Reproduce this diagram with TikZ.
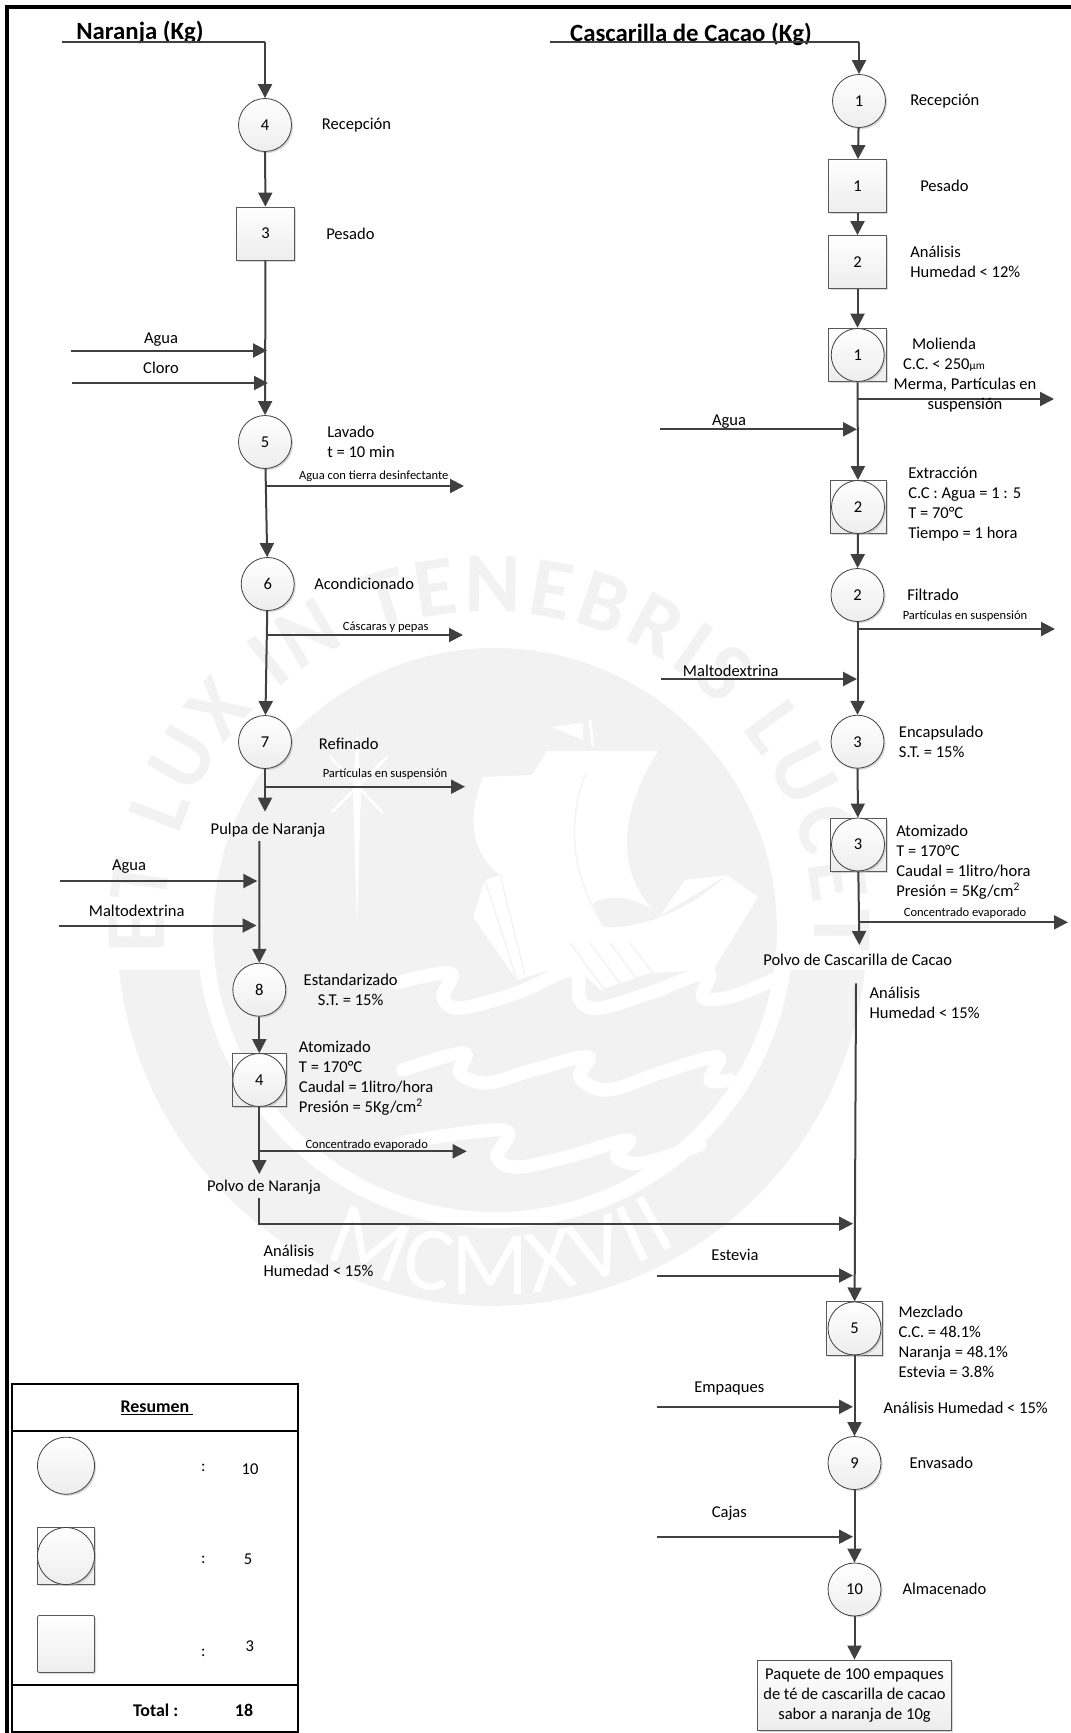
\documentclass[tikz,border=0pt]{standalone}
\usepackage{fontspec}
\setmainfont{Carlito}
\usetikzlibrary{shapes.geometric, arrows.meta, positioning, calc, shadows, decorations.text}
\definecolor{wm_gray}{RGB}{242,242,242}
\definecolor{flow_gray}{RGB}{64,64,64}
\newcommand{\lblfont}{\fontsize{12.4}{15}\selectfont}
\newcommand{\tinyfont}{\fontsize{9.4}{10}\selectfont}
\newcommand{\wmfont}{\fontsize{64}{64}\selectfont\bfseries\color{wm_gray}}
\newcommand{\wmwhite}{\fontsize{68}{68}\selectfont\color{white}}
\tikzset{
    op_circle/.style={ellipse, draw=black!75, line width=0.6pt, inner sep=0pt, top color=white, bottom color=black!7, minimum width=39.75pt, minimum height=39.75pt, font=\lblfont, drop shadow={shadow xshift=1.2pt, shadow yshift=-1.2pt, fill=black!30}},
    ins_box/.style={rectangle, draw=black!65, line width=0.6pt, inner sep=0pt, top color=white, bottom color=black!7, minimum width=44pt, minimum height=39.75pt, font=\lblfont, drop shadow={shadow xshift=1.2pt, shadow yshift=-1.2pt, fill=black!30}},
    lbl/.style={font=\lblfont, inner sep=0pt, align=left, anchor=west},
    lbl_mid/.style={font=\lblfont, inner sep=0pt, align=center},
    lbl_tiny/.style={font=\tinyfont, inner sep=0pt, align=center},
    lbl_bold/.style={font=\fontsize{13.4}{15}\selectfont\bfseries, inner sep=0pt, align=center},
    title/.style={font=\fontsize{18.6}{20}\selectfont\bfseries, inner sep=0pt},
    arrow/.style={-{Triangle[length=10.5pt,width=10.5pt]}, line width=1.5pt, draw=flow_gray},
    stem/.style={line width=1.5pt, draw=flow_gray},
    wave/.style={white, line width=10pt, line cap=round},
    frame_rule/.style={line width=2.5pt, draw=black},
    table_rule/.style={line width=1.5pt, draw=black}
}
\begin{document}
\begin{tikzpicture}[x=0.75pt,y=-0.75pt]
\useasboundingbox (0,0) rectangle (1070,1733);

% watermark
\fill[wm_gray] (119,970) arc[start angle=174, end angle=6, radius=375] -- cycle;
\filldraw[wm_gray, draw=white, line width=12pt] (495,930) circle[radius=290];
\fill[white] (483,777) -- (532,775) -- (547,751) -- (658,751) .. controls (620,810) and (615,870) .. (653,910) .. controls (630,895) and (610,895) .. (593,903) -- (603,927) .. controls (570,925) and (530,905) .. (500,875) .. controls (480,860) and (462,830) .. (483,777) -- cycle;
\fill[white] (473,917) -- (485,880) -- (500,875) .. controls (530,905) and (570,925) .. (603,927) .. controls (640,930) and (690,910) .. (727,875) -- (758,897) -- (713,970) -- (650,973) -- (600,990) -- (573,963) -- (517,980) -- cycle;
\fill[white] (660,916) -- (685,880) -- (727,875) -- cycle;
\fill[white] (552,727) -- (583,723) -- (583,740) -- cycle;
\draw[white, line width=2pt] (590,720) -- (593,747);
\draw[wm_gray, line width=1pt] (585,775) .. controls (565,830) and (575,880) .. (603,925);
\draw[wm_gray, line width=1pt] (570,943) -- (607,993) (590,943) -- (627,993) (610,943) -- (645,990) (630,943) -- (662,985);
\draw[wm_gray, line width=1pt] (485,880) -- (517,980) (500,875) -- (525,975);
\draw[wave] plot[smooth, tension=0.6] coordinates {(397,983) (450,973) (443,997) (460,1008) (517,993) (573,970) (580,1000) (600,1008) (650,993) (707,973) (703,997) (730,997) (773,980)};
\draw[wave] plot[smooth, tension=0.6] coordinates {(403,1070) (463,1053) (460,1073) (487,1083) (533,1070) (587,1057) (580,1077) (607,1090) (660,1073) (717,1057) (710,1080) (730,1080)};
\draw[wave] plot[smooth, tension=0.6] coordinates {(400,1143) (503,1130) (497,1157) (517,1167) (567,1157) (627,1140) (617,1157) (643,1163) (700,1145)};
\fill[white] (357,730) -- (361,790) -- (357,928) -- (353,790) -- cycle;
\draw[white, line width=2pt] (330,757) -- (383,813) (387,757) -- (332,812);
\path[decorate, decoration={text along path, text={|\wmfont|ET LUX IN TENEBRIS LUCET}, text align=fit to path}] (165,952) arc[start angle=176, end angle=364, x radius=325, y radius=318];
\path[decorate, decoration={text along path, text={|\wmwhite|MCMXVII}, text align=fit to path}] (324.3,1255.2) arc[start angle=117, end angle=59, radius=365];

\draw[frame_rule] (7,1740) -- (7,7) -- (1080,7);

% naranja
\node (nar_title) [title] at (140,32) {Naranja (Kg)};
\node (recep_nar) [op_circle] at (265,125) {4};
\node (pesa_nar) [ins_box] at (265.5,233.5) {3};
\node (lava_nar) [op_circle] at (265,442) {5};
\node (acon) [op_circle] at (267.7,584) {6};
\node (refi) [op_circle] at (265,742) {7};
\node (pulpa) [lbl_mid] at (268,830) {Pulpa de Naranja};
\node (esta) [op_circle] at (259.3,989.7) {8};
\node (atom_nar_box) [ins_box, minimum width=40pt, minimum height=40pt] at (259.3,1080) {};
\node (atom_nar) [op_circle] at (259.3,1080) {4};
\node (polvo_nar) [lbl_mid] at (264,1187) {Polvo de Naranja};

\node (t_recep_nar) [lbl] at (321.7,125) {Recepción};
\node (t_pesa_nar) [lbl] at (326,234) {Pesado};
\node (t_lava_nar) [lbl] at (327,441.5) {Lavado\\t = 10 min};
\node (t_acon) [lbl] at (314,584) {Acondicionado};
\node (t_refi) [lbl] at (318.7,744) {Refinado};
\node (t_esta) [lbl_mid] at (350.7,990) {Estandarizado\\S.T. = 15\%};
\node (t_atom_nar) [lbl] at (298.7,1078) {Atomizado\\T = 170°C\\Caudal = 1litro/hora\\Presión = 5Kg/cm\textsuperscript{2}};
\node (t_anal_nar) [lbl] at (263.3,1261) {Análisis\\Humedad < 15\%};

\coordinate (nar_in) at (62,42);
\coordinate (agua_nar_in) at (70.7,350.5);
\coordinate (agua_nar_end) at (267,350.5);
\coordinate (cloro_in) at (71.5,383);
\coordinate (cloro_end) at (268,383);
\coordinate (lava_out) at (464,486);
\coordinate (lava_start) at (266,486);
\coordinate (acon_out) at (463,635);
\coordinate (acon_start) at (266.5,635);
\coordinate (refi_out) at (465,786.7);
\coordinate (refi_start) at (265,786.7);
\coordinate (pulpa_top) at (265,811.7);
\coordinate (pulpa_bot) at (259.4,841);
\coordinate (agua2_in) at (60,881);
\coordinate (agua2_end) at (257.3,881);
\coordinate (malto_nar_in) at (59,925.5);
\coordinate (malto_nar_end) at (256.5,925.5);
\coordinate (atom_nar_start) at (259.3,1151.3);
\coordinate (atom_nar_out) at (466.7,1151.3);
\coordinate (polvo_nar_top) at (259.3,1174);
\coordinate (polvo_nar_bot) at (259.3,1198);
\coordinate (polvo_nar_end) at (853,1223.7);

\draw [stem] (nar_in) -- (265,42) coordinate (nar_turn);
\draw [arrow] (nar_turn) -- (recep_nar);
\draw [arrow] (recep_nar) -- (pesa_nar);
\draw [arrow] (pesa_nar) -- (lava_nar);
\draw [arrow] (agua_nar_in) -- (agua_nar_end);
\draw [arrow] (cloro_in) -- (cloro_end);
\draw [arrow] (lava_nar) -- (acon);
\draw [arrow] (lava_start) -- (lava_out);
\draw [arrow] (acon) -- (refi);
\draw [arrow] (acon_start) -- (acon_out);
\draw [arrow] (refi) -- (pulpa_top);
\draw [arrow] (refi_start) -- (refi_out);
\draw [arrow] (pulpa_bot) -- (esta);
\draw [arrow] (agua2_in) -- (agua2_end);
\draw [arrow] (malto_nar_in) -- (malto_nar_end);
\draw [arrow] (esta) -- (atom_nar);
\draw [arrow] (atom_nar) -- (polvo_nar_top);
\draw [arrow] (atom_nar_start) -- (atom_nar_out);
\draw [arrow] (polvo_nar_bot) |- (polvo_nar_end);

\node (l_agua_nar) [lbl_mid] at (161,340) {Agua};
\node (l_cloro) [lbl_mid] at (161,368) {Cloro};
\node (l_lava) [lbl_tiny] at (373.7,476) {Agua con tierra desinfectante};
\node (l_acon) [lbl_tiny] at (385.7,627) {Cáscaras y pepas};
\node (l_refi) [lbl_tiny] at (385,774) {Partículas en suspensión};
\node (l_agua2) [lbl_mid] at (129,866.7) {Agua};
\node (l_malto_nar) [lbl_mid] at (136.7,910.7) {Maltodextrina};
\node (l_atom_nar) [lbl_tiny] at (366.7,1145) {Concentrado evaporado};

% cascarilla
\node (cac_title) [title] at (691,34) {Cascarilla de Cacao (Kg)};
\node (recep_cac) [op_circle] at (859,101) {1};
\node (pesa_cac) [ins_box] at (857.5,186) {1};
\node (anal_cac) [ins_box] at (857.5,262) {2};
\node (moli_box) [ins_box, minimum height=40.3pt] at (857.5,355) {};
\node (moli) [op_circle] at (857.7,355) {1};
\node (extr_box) [ins_box, minimum width=42pt] at (858,507) {};
\node (extr) [op_circle] at (858,507) {2};
\node (filt) [op_circle] at (857.5,595) {2};
\node (enca) [op_circle] at (857.5,741.7) {3};
\node (atom_cac_box) [ins_box, minimum width=42pt] at (858,844.5) {};
\node (atom_cac) [op_circle] at (858,844.5) {3};
\node (polvo_cac) [lbl_mid] at (857.7,960) {Polvo de Cascarilla de Cacao};
\node (mezc_box) [ins_box, minimum width=42pt, minimum height=40pt] at (854.5,1328.4) {};
\node (mezc) [op_circle] at (854.5,1328.4) {5};
\node (enva) [op_circle] at (854.5,1463) {9};
\node (alma) [op_circle] at (854.5,1589.5) {10};
\node (paquete) [ins_box, minimum width=145.5pt, minimum height=52.5pt, align=center] at (854.5,1695) {Paquete de 100 empaques\\de té de cascarilla de cacao\\sabor a naranja de 10g};

\node (t_recep_cac) [lbl] at (910,101) {Recepción};
\node (t_pesa_cac) [lbl] at (920,185.7) {Pesado};
\node (t_anal_cac) [lbl] at (910,262) {Análisis\\Humedad < 12\%};
\node (t_moli) [lbl_mid] at (944,355) {Molienda\\C.C. < 250{\fontsize{8.5}{10}\selectfont µm}};
\node (t_extr) [lbl] at (908,504) {Extracción\\C.C : Agua = 1 : 5\\T = 70°C\\Tiempo = 1 hora};
\node (t_filt) [lbl] at (907,595) {Filtrado};
\node (t_enca) [lbl] at (898.7,742) {Encapsulado\\S.T. = 15\%};
\node (t_atom_cac) [lbl] at (896,862) {Atomizado\\T = 170°C\\Caudal = 1litro/hora\\Presión = 5Kg/cm\textsuperscript{2}};
\node (t_anal_cac2) [lbl] at (869.3,1002.5) {Análisis\\Humedad < 15\%};
\node (t_mezc) [lbl] at (898.3,1342) {Mezclado\\C.C. = 48.1\%\\Naranja = 48.1\%\\Estevia = 3.8\%};
\node (t_anal_mezc) [lbl] at (883.3,1408) {Análisis Humedad < 15\%};
\node (t_enva) [lbl] at (909.3,1463) {Envasado};
\node (t_alma) [lbl] at (902.3,1589) {Almacenado};

\coordinate (cac_in) at (550,41.8);
\coordinate (agua_cac_in) at (660,429.3);
\coordinate (agua_cac_end) at (857,429.3);
\coordinate (moli_start) at (857.5,399);
\coordinate (moli_out) at (1054,399);
\coordinate (filt_start) at (857.5,629);
\coordinate (filt_out) at (1055,629);
\coordinate (malto_cac_in) at (661,679);
\coordinate (malto_cac_end) at (857,679);
\coordinate (atom_cac_start) at (859,922.3);
\coordinate (atom_cac_out) at (1068,922.3);
\coordinate (polvo_cac_top) at (859.3,945);
\coordinate (polvo_cac_bot) at (856,983.3);
\coordinate (estevia_in) at (656.7,1275.5);
\coordinate (estevia_end) at (853,1275.5);
\coordinate (empaques_in) at (656.7,1406.8);
\coordinate (empaques_end) at (853,1406.8);
\coordinate (cajas_in) at (656.7,1536.7);
\coordinate (cajas_end) at (853,1536.7);

\draw [stem] (cac_in) -- (859,41.8) coordinate (cac_turn);
\draw [arrow] (cac_turn) -- (recep_cac);
\draw [arrow] (recep_cac) -- (pesa_cac);
\draw [arrow] (pesa_cac) -- (anal_cac);
\draw [arrow] (anal_cac) -- (moli_box);
\draw [arrow] (moli_box) -- (extr_box);
\draw [arrow] (moli_start) -- (moli_out);
\draw [arrow] (agua_cac_in) -- (agua_cac_end);
\draw [arrow] (extr_box) -- (filt);
\draw [arrow] (filt) -- (enca);
\draw [arrow] (filt_start) -- (filt_out);
\draw [arrow] (malto_cac_in) -- (malto_cac_end);
\draw [arrow] (enca) -- (atom_cac);
\draw [arrow] (atom_cac) -- (polvo_cac_top);
\draw [arrow] (atom_cac_start) -- (atom_cac_out);
\draw [arrow] (polvo_cac_bot) -- (mezc);
\draw [arrow] (estevia_in) -- (estevia_end);
\draw [arrow] (mezc) -- (enva);
\draw [arrow] (empaques_in) -- (empaques_end);
\draw [arrow] (enva) -- (alma);
\draw [arrow] (cajas_in) -- (cajas_end);
\draw [arrow] (alma) -- (paquete);

\node (l_moli) [lbl_mid] at (965,395) {Merma, Partículas en\\suspensión};
\node (l_agua_cac) [lbl_mid] at (729,421.4) {Agua};
\node (l_filt) [lbl_tiny] at (965,616) {Partículas en suspensión};
\node (l_malto_cac) [lbl_mid] at (730.7,671) {Maltodextrina};
\node (l_atom_cac) [lbl_tiny] at (965,913) {Concentrado evaporado};
\node (l_estevia) [lbl_mid] at (735,1254.4) {Estevia};
\node (l_empaques) [lbl_mid] at (729.3,1389) {Empaques};
\node (l_cajas) [lbl_mid] at (729.3,1513) {Cajas};

% resumen
\draw[table_rule] (11.7,1384.3) rectangle (297.7,1731.7);
\draw[table_rule] (11.7,1430.7) -- (297.7,1430.7);
\draw[table_rule] (11.7,1685.3) -- (297.7,1685.3);
\node (res_title) [lbl_bold] at (157,1407.7) {\underline{Resumen\ }};
\node (res_op) [op_circle, minimum width=42.75pt, minimum height=42.75pt] at (66,1465.7) {};
\node (res_com_box) [ins_box, minimum width=42.75pt, minimum height=42.75pt] at (66,1556) {};
\node (res_com) [op_circle, minimum width=42.75pt, minimum height=42.75pt] at (66,1556) {};
\node (res_ins) [ins_box, rounded corners=1pt, minimum width=42.75pt, minimum height=42.75pt] at (66,1644) {};
\node (res_c1) [lbl_mid] at (203.3,1467.7) {:};
\node (res_c2) [lbl_mid] at (203.3,1560) {:};
\node (res_c3) [lbl_mid] at (203.3,1652.7) {:};
\node (res_n1) [lbl_mid] at (250,1469) {10};
\node (res_n2) [lbl_mid] at (248,1559) {5};
\node (res_n3) [lbl_mid] at (249.7,1645.7) {3};
\node (res_total) [lbl_bold] at (155.7,1710.7) {Total :};
\node (res_sum) [lbl_bold] at (244,1710.7) {18};
\end{tikzpicture}
\end{document}
